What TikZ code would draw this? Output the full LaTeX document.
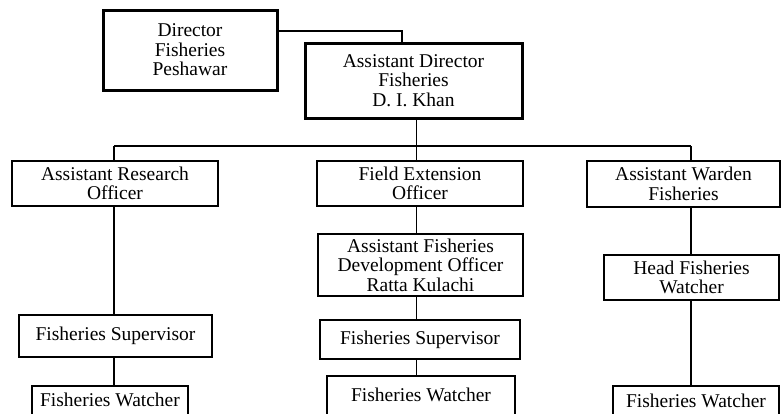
\documentclass[tikz,border=0pt]{standalone}
\usepackage{fontspec}
\setmainfont{Liberation Serif}
\begin{document}
\begin{tikzpicture}[x=1pt,y=-1pt,
  unit/.style={draw, line width=1.5pt, inner sep=0pt, align=center,
    font=\fontsize{19.5}{19.5}\selectfont},
  headunit/.style={unit, line width=3pt},
  openunit/.style={unit, anchor=north, text depth=30pt},
  link/.style={line width=1.5pt}]
\useasboundingbox (0,0) rectangle (782,413);
\clip (0,0) rectangle (782,413);

% top management
\node[headunit, minimum width=174pt, minimum height=80pt] (dir) at (190,50)
  {Director\\Fisheries\\Peshawar};
\node[headunit, minimum width=217pt, minimum height=75pt] (ad) at (413.5,80.5)
  {Assistant Director\\Fisheries\\D. I. Khan};

% second level
\node[unit, minimum width=206pt, minimum height=45pt] (aro) at (115,183.5)
  {Assistant Research\\Officer};
\node[unit, minimum width=206pt, minimum height=45pt] (feo) at (420,183.5)
  {Field Extension\\Officer};
\node[unit, minimum width=193pt, minimum height=46pt] (aw) at (683.5,184)
  {Assistant Warden\\Fisheries};

% research column
\node[unit, minimum width=193pt, minimum height=42pt] (fsl) at (115.5,336)
  {Fisheries Supervisor};
\node[openunit, minimum width=156pt, text height=21pt] (fwl) at (110,385)
  {Fisheries Watcher};

% extension column
\node[unit, minimum width=205pt, minimum height=62pt] (afdo) at (420.5,265)
  {Assistant Fisheries\\Development Officer\\Ratta Kulachi};
\node[unit, minimum width=200pt, minimum height=39pt] (fsm) at (420,339.5)
  {Fisheries Supervisor};
\node[openunit, minimum width=188pt, text height=26pt] (fwm) at (421,375)
  {Fisheries Watcher};

% warden column
\node[unit, minimum width=175pt, minimum height=45pt] (hfw) at (691.5,277.5)
  {Head Fisheries\\Watcher};
\node[openunit, minimum width=166pt, text height=22pt] (fwr) at (696,385)
  {Fisheries Watcher};

% connectors
\coordinate (bend) at (402,31);
\coordinate (colA) at (114,146);
\coordinate (colB) at (416.5,146);
\coordinate (colC) at (691,146);

\draw[link] (dir.east |- bend) -- (bend) -- (bend |- ad.north);
\draw[link] (colB |- ad.south) -- (colB);
\draw[link] (colA) -- (colC);

\draw[link] (colA) -- (colA |- aro.north);
\draw[link] (colA |- aro.south) -- (colA |- fsl.north);
\draw[link] (colA |- fsl.south) -- (colA |- fwl.north);

\draw[link] (colB) -- (colB |- feo.north);
\draw[link] (colB |- feo.south) -- (colB |- afdo.north);
\draw[link] (colB |- afdo.south) -- (colB |- fsm.north);
\draw[link] (colB |- fsm.south) -- (colB |- fwm.north);

\draw[link] (colC) -- (colC |- aw.north);
\draw[link] (colC |- aw.south) -- (colC |- hfw.north);
\draw[link] (colC |- hfw.south) -- (colC |- fwr.north);
\end{tikzpicture}
\end{document}
